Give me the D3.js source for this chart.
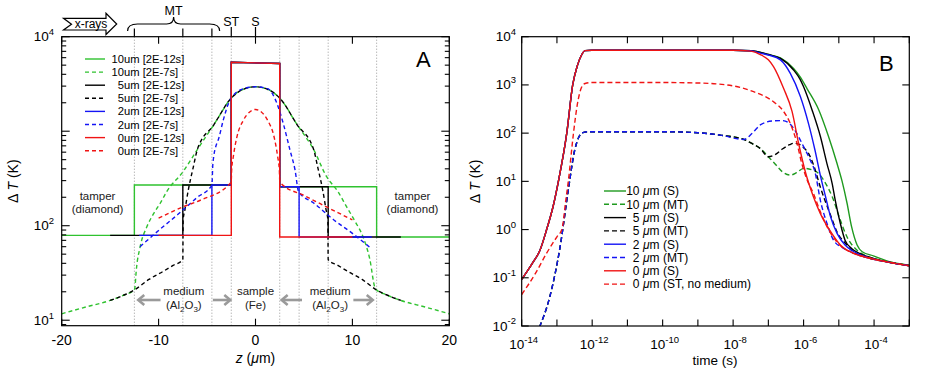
<!DOCTYPE html>
<html><head><meta charset="utf-8">
<script src="https://cdn.jsdelivr.net/npm/d3@7"></script>
<style>
body{margin:0;background:#fff;}
svg{display:block;font-family:"Liberation Sans",Arial,Helvetica,sans-serif;}
text{white-space:pre;}
</style></head><body>
<svg id="c" width="926" height="368"></svg>
<script>
// ================= DATA =================
// Panel A: z (µm) vs ΔT (K)
const aBoundaries = [-12.5,-7.5,-4.5,-2.5,2.5,4.5,7.5,12.5];
const aXTicks = [-20,-10,0,10,20];
const aYLabelExps = [1,2,4];
// solid: 2E-12 s
const a10S = [[-20,79],[-12.5,79],[-12.5,270],[-2.5,270],[-2.5,5370],[2.5,5200],[2.5,258],[12.5,258],[12.5,76],[20,76]];
const a5S  = [[-15,79],[-7.5,79],[-7.5,270],[-2.5,270],[-2.5,5370],[2.5,5200],[2.5,258],[7.5,258],[7.5,76],[15,76]];
const a2S  = [[-12,79],[-4.5,79],[-4.5,270],[-2.5,270],[-2.5,5370],[2.5,5200],[2.5,258],[4.5,258],[4.5,76],[12,76]];
const a0S  = [[-10,79],[-2.5,79],[-2.5,5370],[2.5,5200],[2.5,76],[10,76]];
// dashed: 2E-7 s
const a10D = [[-20,11.7],[-17.5,13.8],[-15,16.2],[-13.5,18.6],[-12.5,20.9],[-12.45,22],[-12.3,34],[-11.9,60],[-11.2,98],[-10.5,135],[-9.8,175],[-9.16,230],[-7.5,370],[-6.0,640],[-4.3,1170],[-2.5,2240],[-1.25,2780],[0,2951],[1.25,2780],[2.5,2240],[4.3,1170],[6.0,640],[7.34,330],[8.5,230],[9.41,158],[10.3,110],[11.1,76],[11.8,44],[12.33,22],[12.5,20.9],[13.5,18.6],[15,16.2],[17.5,13.8],[20,11.7]];
const a5D  = [[-15,16.2],[-13.5,18.6],[-12.5,20.9],[-11,27],[-9.5,33],[-8.5,38],[-7.5,43.6],[-7.47,115],[-7.28,148],[-6.93,240],[-6.42,417],[-6.0,640],[-4.3,1170],[-2.5,2240],[-1.25,2780],[0,2951],[1.25,2780],[2.5,2240],[4.3,1170],[6.0,640],[6.42,417],[6.93,240],[7.28,148],[7.47,115],[7.5,43.6],[8.5,38],[9.5,33],[11,27],[12.5,20.9],[13.5,18.6],[15,16.2]];
const a2D  = [[-11.92,60],[-10,89],[-8,132],[-6,200],[-4.5,269],[-4.4,450],[-4.0,741],[-3.84,813],[-3.32,1318],[-2.63,2138],[-1.26,2818],[0,2951],[1.26,2818],[2.19,1995],[2.87,1202],[3.56,631],[4.08,389],[4.45,229],[6,174],[8,117],[10,83],[11.9,58]];
const a0D  = [[-10,120],[-7.5,158],[-5.7,186],[-2.6,282],[-2.5,300],[-2.46,389],[-2.29,537],[-1.94,850],[-1.26,1300],[-0.6,1600],[0,1698],[0.6,1600],[1.26,1300],[1.94,850],[2.29,537],[2.46,389],[2.5,300],[2.6,282],[5,209],[7.5,155],[10,115]];
const aLegendNum = ["10","10","5","5","2","2","0","0"];
const aLegendTail = ["um [2E-12s]","um [2E-7s]","um [2E-12s]","um [2E-7s]","um [2E-12s]","um [2E-7s]","um [2E-12s]","um [2E-7s]"];

// Panel B: time (s) vs ΔT (K)
const bXTickExps = [-14,-13,-12,-11,-10,-9,-8,-7,-6,-5,-4,-3];
const bXLabelExps = [-14,-12,-10,-8,-6,-4];
const bYTickExps = [-2,-1,0,1,2,3,4];
const bRise = [[1e-14,0.093],[2e-14,0.2],[3.3e-14,0.372],[5.1e-14,1],[7.9e-14,3.16],[1.1e-13,10],[1.9e-13,100],[2.8e-13,1000],[3.8e-13,2512],[5e-13,4169],[6.3e-13,5129],[1e-12,5248],[1e-8,5248]];
const b0S  = bRise.concat([[3.2e-8,5012],[5.9e-8,4266],[1e-7,3311],[1.4e-7,2399],[2.7e-7,851],[4.7e-7,282],[7.2e-7,61.7],[1.12e-6,15.8],[1.9e-6,4.79],[2.95e-6,2.19],[5.8e-6,0.912],[1.1e-5,0.479],[2.6e-5,0.324],[6.3e-5,0.263],[2.3e-4,0.214],[1e-3,0.178]]);
const b2S  = bRise.concat([[3.2e-8,5129],[5.9e-8,4571],[1e-7,4169],[2.2e-7,3311],[4.2e-7,1738],[8.1e-7,575],[1.38e-6,158],[2.1e-6,44.7],[3e-6,13.2],[4.2e-6,4.79],[5.8e-6,1.86],[8.9e-6,0.832],[1.5e-5,0.479],[2.3e-5,0.372],[6.3e-5,0.269],[2.3e-4,0.214],[1e-3,0.178]]);
const b5S  = bRise.concat([[3.2e-8,5129],[1e-7,4266],[2.2e-7,3548],[5.2e-7,2042],[7.9e-7,1318],[1e-6,912],[1.74e-6,302],[3e-6,85],[4.6e-6,23.4],[6.5e-6,8.9],[7.9e-6,4.07],[1.1e-5,1.35],[1.5e-5,0.603],[2.3e-5,0.407],[4e-5,0.316],[1e-4,0.25],[2.3e-4,0.214],[1e-3,0.178]]);
const b10S = bRise.concat([[3.2e-8,5129],[1e-7,4266],[2.2e-7,3631],[5.2e-7,2188],[7.9e-7,1480],[1.26e-6,830],[2.7e-6,302],[5.1e-6,85],[8.9e-6,23.4],[1.23e-5,10.2],[1.7e-5,3.6],[2.3e-5,1.15],[3.3e-5,0.479],[4.6e-5,0.347],[1e-4,0.282],[2.3e-4,0.224],[1e-3,0.182]]);
const b0ST = [[1e-14,0.045],[2.5e-14,0.126],[5.1e-14,0.324],[1e-13,0.708],[1.38e-13,1],[1.78e-13,4.0],[2.1e-13,10],[2.95e-13,100],[3.8e-13,398],[5e-13,891],[6.3e-13,1072],[1e-12,1122],[1e-10,1122],[1e-9,1096],[6.6e-9,1000],[3.8e-8,724],[1.4e-7,447],[2.7e-7,282],[4.2e-7,158],[6.5e-7,61.7],[8.9e-7,23.4],[1.26e-6,10.7],[1.9e-6,5.6],[2.95e-6,2.4],[5.1e-6,1],[1e-5,0.5],[2.5e-5,0.324],[6.3e-5,0.263],[2.3e-4,0.214],[1e-3,0.178]];
const bMTRise = [[3.2e-14,0.0095],[6.3e-14,0.041],[1.23e-13,0.437],[2.1e-13,6.6],[3.2e-13,44.7],[4.2e-13,83],[5e-13,100],[7.9e-13,107],[1e-10,107],[1e-9,102],[4.3e-9,91],[2e-8,74]];
const b2MT = bMTRise.concat([[3.5e-8,100],[5.9e-8,148],[1.26e-7,178],[2.5e-7,182],[4e-7,158],[5.2e-7,126],[1e-6,52.5],[1.55e-6,27.5],[2.1e-6,15.8],[3e-6,4],[4.6e-6,1.35],[7.1e-6,0.603],[1.38e-5,0.407],[2.1e-5,0.347],[6.3e-5,0.263],[2.3e-4,0.214],[1e-3,0.178]]);
const b5MT = bMTRise.concat([[3.5e-8,60.3],[5.9e-8,47.9],[1e-7,32.4],[1.6e-7,36.3],[2.5e-7,46.8],[4e-7,57.5],[5.2e-7,61.7],[7.9e-7,57.5],[1e-6,50],[1.38e-6,38],[2e-6,20],[2.95e-6,7.8],[5.8e-6,2.0],[8.9e-6,0.89],[1.6e-5,0.5],[2.5e-5,0.355],[6.3e-5,0.263],[2.3e-4,0.214],[1e-3,0.178]]);
const b10MT = bMTRise.concat([[3.5e-8,60.3],[5.9e-8,47.9],[1e-7,32.4],[1.6e-7,22.4],[2.5e-7,15.8],[4.2e-7,13.5],[6.3e-7,15.1],[1e-6,18.6],[1.9e-6,17],[2.8e-6,14.1],[4.2e-6,9.1],[6.5e-6,4.79],[1.1e-5,1.58],[1.7e-5,0.708],[3.3e-5,0.372],[6.3e-5,0.282],[2.3e-4,0.219],[1e-3,0.182]]);
const bLegendNum = ["10","10","5","5","2","2","0","0"];
const bLegendTag = ["(S)","(MT)","(S)","(MT)","(S)","(MT)","(S)","(ST, no medium)"];

// ================= STYLES =================
const GA="#2fc22f", GB="#1f9a1f", BK="#000", BL="#1414f5", RD="#f01414";
const seriesA = [
  {d:a10S,c:GA,dash:false},{d:a10D,c:GA,dash:true},
  {d:a5S,c:BK,dash:false},{d:a5D,c:BK,dash:true},
  {d:a2S,c:BL,dash:false},{d:a2D,c:BL,dash:true},
  {d:a0S,c:RD,dash:false},{d:a0D,c:RD,dash:true}];
const seriesB = [
  {d:b10S,c:GB,dash:false},{d:b10MT,c:GB,dash:true},
  {d:b5S,c:BK,dash:false},{d:b5MT,c:BK,dash:true},
  {d:b2S,c:BL,dash:false},{d:b2MT,c:BL,dash:true},
  {d:b0S,c:RD,dash:false},{d:b0ST,c:RD,dash:true}];

const svg=d3.select("#c");
const defs=svg.append("defs");

function pow10(g,x,y,exp,anchor,fs,sfs){
  const t=g.append("text").attr("x",x).attr("y",y).attr("text-anchor",anchor).attr("font-size",fs).attr("fill","#000");
  t.append("tspan").text("10");
  t.append("tspan").attr("dy",-fs*0.45).attr("font-size",sfs).text(exp);
  return t;
}

// ================= PANEL A =================
const ax=d3.scaleLinear().domain([-20,20]).range([61.7,449.3]);
const ay=d3.scaleLog().domain([8.75,1e4]).range([325.7,36.7]);
const [ax0,ax1]=ax.range(), [ay0,ay1]=ay.range();
defs.append("clipPath").attr("id","clipA").append("rect").attr("x",ax0).attr("y",ay1).attr("width",ax1-ax0).attr("height",ay0-ay1);
const gA=svg.append("g");

// dotted boundaries
gA.selectAll("line.bd").data(aBoundaries).join("line")
  .attr("x1",d=>ax(d)).attr("x2",d=>ax(d)).attr("y1",ay1).attr("y2",ay0)
  .attr("stroke","#999").attr("stroke-width",1).attr("stroke-dasharray","1,2");

// region labels
const labA=gA.append("g").attr("font-size",11.5).attr("fill","#222").attr("text-anchor","middle");
[[ax(-16.3)],[ax(16.2)]].forEach(([x])=>{
  labA.append("text").attr("x",x).attr("y",200).text("tamper");
  labA.append("text").attr("x",x).attr("y",213).text("(diamond)");
});
[ax(-7.4),ax(7.7)].forEach(x=>{
  labA.append("text").attr("x",x).attr("y",295).text("medium");
  const t=labA.append("text").attr("x",x).attr("y",309);
  t.append("tspan").text("(Al");
  t.append("tspan").attr("dy",3).attr("font-size",8).text("2");
  t.append("tspan").attr("dy",-3).text("O");
  t.append("tspan").attr("dy",3).attr("font-size",8).text("3");
  t.append("tspan").attr("dy",-3).text(")");
});
labA.append("text").attr("x",ax(0)).attr("y",295).text("sample");
labA.append("text").attr("x",ax(0)).attr("y",309).text("(Fe)");
// grey arrows
const arrowsA=[[-9.8,-12.1],[-4.4,-2.6],[4.8,2.7],[10.1,12.1]];
arrowsA.forEach(([from,to])=>{
  const x1=ax(from),x2=ax(to),y=300,s=Math.sign(x2-x1);
  gA.append("line").attr("x1",x1).attr("x2",x2-s*1).attr("y1",y).attr("y2",y).attr("stroke","#9a9a9a").attr("stroke-width",2.6);
  gA.append("polyline").attr("points",`${x2-s*6},${y-5} ${x2},${y} ${x2-s*6},${y+5}`).attr("fill","none").attr("stroke","#9a9a9a").attr("stroke-width",2.6);
});

// curves
const lineA=d3.line().x(d=>ax(d[0])).y(d=>ay(d[1]));
const gCA=gA.append("g").attr("clip-path","url(#clipA)");
seriesA.forEach(s=>{
  gCA.append("path").attr("d",lineA.curve(s.dash?d3.curveMonotoneX:d3.curveLinear)(s.d))
    .attr("fill","none").attr("stroke",s.c).attr("stroke-width",1.4)
    .attr("stroke-dasharray",s.dash?"4,3":null);
});

// frame & ticks
gA.append("rect").attr("x",ax0).attr("y",ay1).attr("width",ax1-ax0).attr("height",ay0-ay1).attr("fill","none").attr("stroke","#000").attr("stroke-width",1.2);
ay.ticks().filter(v=>v>=ay.domain()[0]&&v<=1e4).forEach(v=>{
  const major=Math.abs(Math.log10(v)-Math.round(Math.log10(v)))<1e-9;
  const L=major?8:4.5, y=ay(v);
  gA.append("line").attr("x1",ax0).attr("x2",ax0+L).attr("y1",y).attr("y2",y).attr("stroke","#000").attr("stroke-width",1.1);
  gA.append("line").attr("x1",ax1).attr("x2",ax1-L).attr("y1",y).attr("y2",y).attr("stroke","#000").attr("stroke-width",1.1);
});
aXTicks.forEach(v=>{
  const x=ax(v);
  gA.append("line").attr("x1",x).attr("x2",x).attr("y1",ay0).attr("y2",ay0-7).attr("stroke","#000").attr("stroke-width",1.1);
  gA.append("line").attr("x1",x).attr("x2",x).attr("y1",ay1).attr("y2",ay1+7).attr("stroke","#000").attr("stroke-width",1.1);
  gA.append("text").attr("x",x).attr("y",345).attr("text-anchor","middle").attr("font-size",14).text(v);
});
aYLabelExps.forEach(e=>pow10(gA,54,ay(Math.pow(10,e))+4.5,e,"end",13.5,9.5));

// axis titles
const tzA=gA.append("text").attr("x",ax(0)).attr("y",363).attr("text-anchor","middle").attr("font-size",14);
tzA.append("tspan").attr("font-style","italic").text("z");
tzA.append("tspan").text(" (");
tzA.append("tspan").attr("font-style","italic").text("μ");
tzA.append("tspan").text("m)");
const tyA=gA.append("text").attr("transform",`translate(18,${(ay0+ay1)/2}) rotate(-90)`).attr("text-anchor","middle").attr("font-size",14);
tyA.append("tspan").text("Δ ");
tyA.append("tspan").attr("font-style","italic").text("T");
tyA.append("tspan").text(" (K)");
gA.append("text").attr("x",416).attr("y",67).attr("font-size",22).text("A");

// legend A
aLegendNum.forEach((n,i)=>{
  const y=59+13.1*i, s=seriesA[i];
  gA.append("line").attr("x1",85).attr("x2",105).attr("y1",y).attr("y2",y).attr("stroke",s.c).attr("stroke-width",1.4).attr("stroke-dasharray",s.dash?"4,3":null);
  gA.append("text").attr("x",124).attr("y",y+4).attr("text-anchor","end").attr("font-size",11.2).text(n);
  gA.append("text").attr("x",124).attr("y",y+4).attr("font-size",11.2).text(aLegendTail[i]);
});

// top annotations
const annTicks=[[-12.5,28.5],[-7.5,28.5],[-4.5,28.5],[-2.5,27],[0,27]];
annTicks.forEach(([z,y])=>gA.append("line").attr("x1",ax(z)).attr("x2",ax(z)).attr("y1",y).attr("y2",ay1).attr("stroke","#000").attr("stroke-width",1.2));
{
  const l=ax(-13.2), r=ax(-3.7), m=(l+r)/2, yb=24;
  gA.append("path").attr("d",`M${l},31 Q${l},${yb} ${l+10},${yb} L${m-7},${yb} Q${m},${yb} ${m},${yb-7} Q${m},${yb} ${m+7},${yb} L${r-10},${yb} Q${r},${yb} ${r},31`)
    .attr("fill","none").attr("stroke","#000").attr("stroke-width",1.2);
  gA.append("text").attr("x",m).attr("y",15).attr("text-anchor","middle").attr("font-size",12.5).text("MT");
}
gA.append("text").attr("x",ax(-2.5)).attr("y",26).attr("text-anchor","middle").attr("font-size",12.5).text("ST");
gA.append("text").attr("x",ax(0)).attr("y",26).attr("text-anchor","middle").attr("font-size",12.5).text("S");
gA.append("polygon").attr("points","63.5,18.3 106,18.3 106,13.3 116.7,24 106,34.5 106,30 63.5,30 71.5,24.2")
  .attr("fill","#fff").attr("stroke","#000").attr("stroke-width",1.2);
gA.append("text").attr("x",91).attr("y",27.5).attr("text-anchor","middle").attr("font-size",12).text("x-rays");

// ================= PANEL B =================
const bx=d3.scaleLog().domain([1e-14,1e-3]).range([521.7,909.3]);
const by=d3.scaleLog().domain([1e-2,1e4]).range([326,36.7]);
const [bx0,bx1]=bx.range(), [by0,by1]=by.range();
defs.append("clipPath").attr("id","clipB").append("rect").attr("x",bx0).attr("y",by1).attr("width",bx1-bx0).attr("height",by0-by1);
const gB=svg.append("g");
const lineB=d3.line().x(d=>bx(d[0])).y(d=>by(d[1])).curve(d3.curveMonotoneX);
const gCB=gB.append("g").attr("clip-path","url(#clipB)");
seriesB.forEach(s=>{
  gCB.append("path").attr("d",lineB(s.d)).attr("fill","none").attr("stroke",s.c).attr("stroke-width",1.4)
    .attr("stroke-dasharray",s.dash?"5,3":null);
});
gB.append("rect").attr("x",bx0).attr("y",by1).attr("width",bx1-bx0).attr("height",by0-by1).attr("fill","none").attr("stroke","#000").attr("stroke-width",1.2);
bXTickExps.forEach(e=>{
  const x=bx(Math.pow(10,e));
  gB.append("line").attr("x1",x).attr("x2",x).attr("y1",by0).attr("y2",by0-6.5).attr("stroke","#000").attr("stroke-width",1.1);
  gB.append("line").attr("x1",x).attr("x2",x).attr("y1",by1).attr("y2",by1+6.5).attr("stroke","#000").attr("stroke-width",1.1);
});
bXLabelExps.forEach(e=>pow10(gB,bx(Math.pow(10,e))+2,349,e,"middle",13.5,9.5));
bYTickExps.forEach(e=>{
  const y=by(Math.pow(10,e));
  gB.append("line").attr("x1",bx0).attr("x2",bx0+7).attr("y1",y).attr("y2",y).attr("stroke","#000").attr("stroke-width",1.1);
  gB.append("line").attr("x1",bx1).attr("x2",bx1-7).attr("y1",y).attr("y2",y).attr("stroke","#000").attr("stroke-width",1.1);
  pow10(gB,516,y+4.5,e,"end",13.5,9.5);
});
gB.append("text").attr("x",715).attr("y",364.5).attr("text-anchor","middle").attr("font-size",13.5).text("time (s)");
const tyB=gB.append("text").attr("transform",`translate(480,${(by0+by1)/2}) rotate(-90)`).attr("text-anchor","middle").attr("font-size",14);
tyB.append("tspan").text("Δ ");
tyB.append("tspan").attr("font-style","italic").text("T");
tyB.append("tspan").text(" (K)");
gB.append("text").attr("x",879).attr("y",71).attr("font-size",22).text("B");

// legend B
bLegendNum.forEach((n,i)=>{
  const y=191+13.3*i, s=seriesB[i];
  gB.append("line").attr("x1",604).attr("x2",626).attr("y1",y).attr("y2",y).attr("stroke",s.c).attr("stroke-width",1.4).attr("stroke-dasharray",s.dash?"5,3":null);
  gB.append("text").attr("x",639.5).attr("y",y+4.3).attr("text-anchor","end").attr("font-size",12).text(n);
  const t=gB.append("text").attr("x",643).attr("y",y+4.3).attr("font-size",12);
  t.append("tspan").attr("font-style","italic").text("μ");
  t.append("tspan").text("m "+bLegendTag[i]);
});
</script>
</body></html>
